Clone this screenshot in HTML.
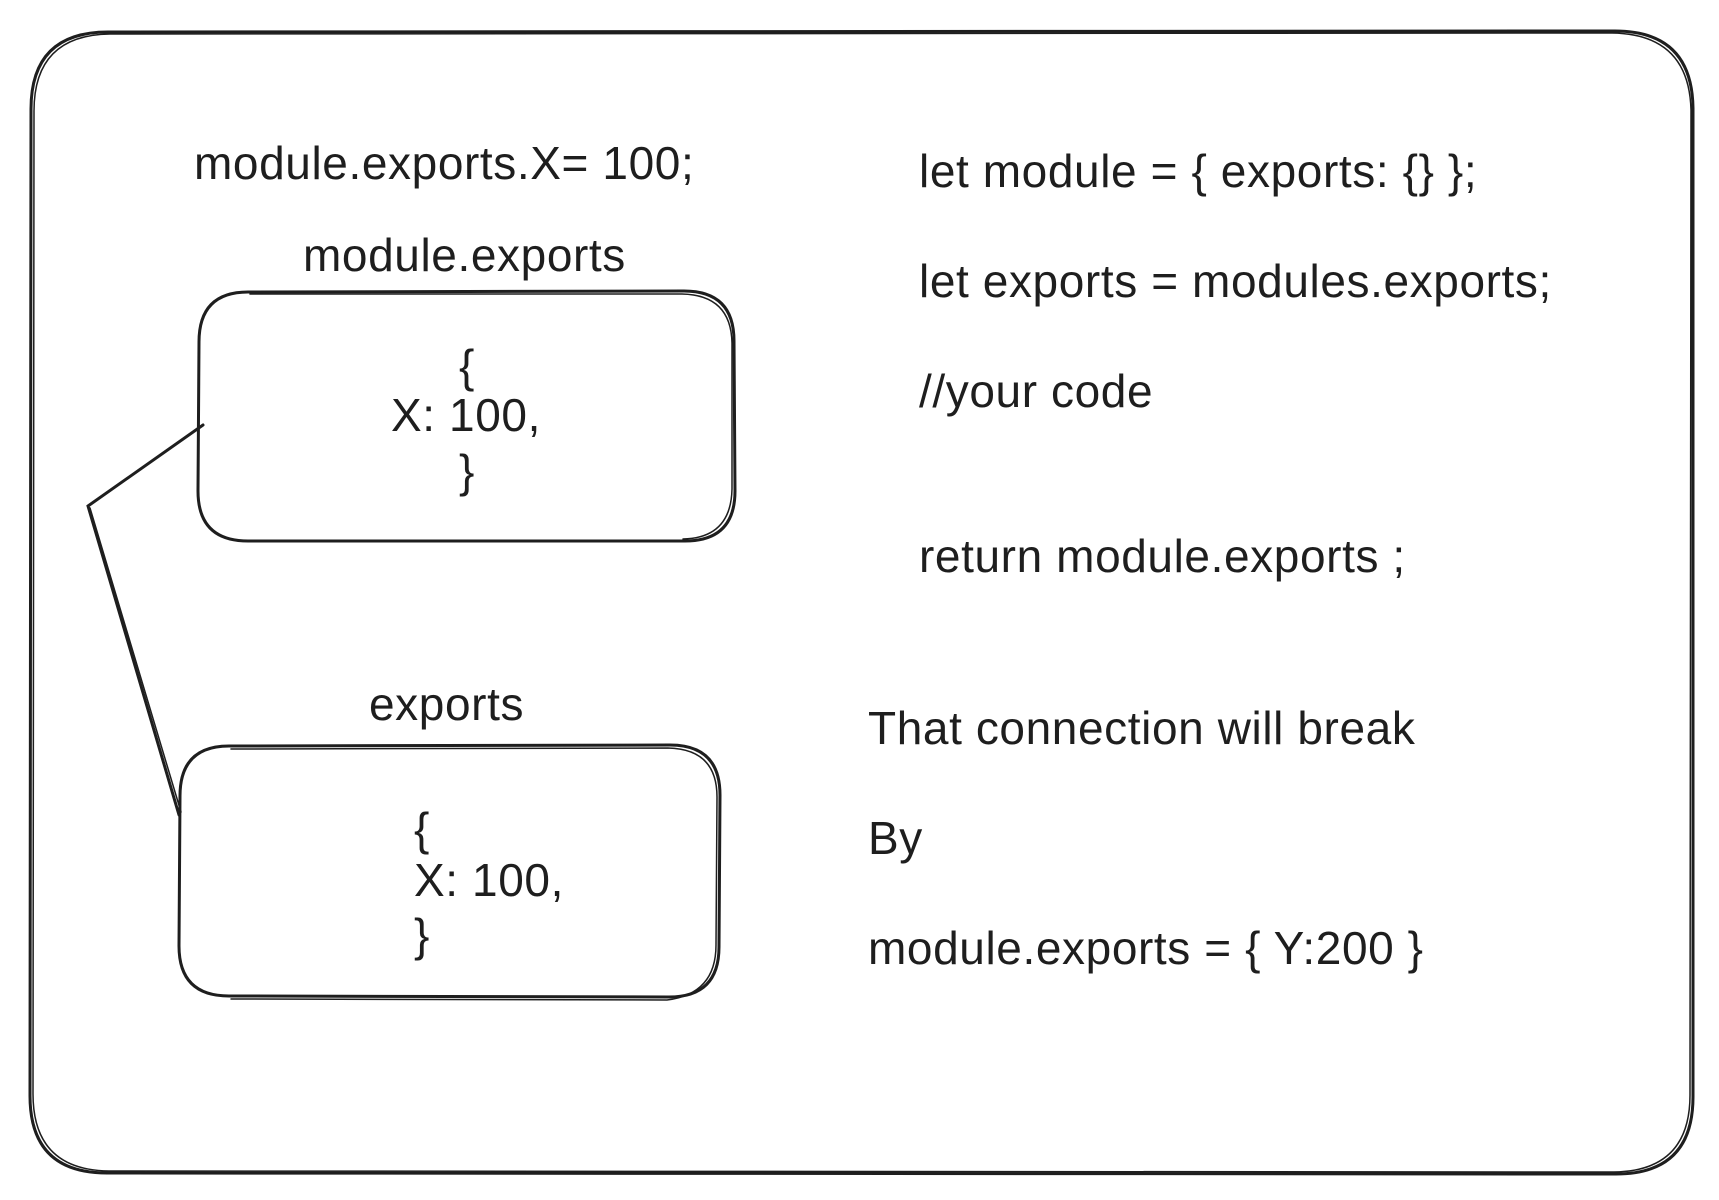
<!DOCTYPE html>
<html><head><meta charset="utf-8"><style>
html,body{margin:0;padding:0;background:#fff;}
svg{display:block;}
text{font-family:"Liberation Sans",Arial,sans-serif;font-size:46px;letter-spacing:0.6px;fill:#1e1e1e;}
</style></head><body>
<svg width="1719" height="1200" viewBox="0 0 1719 1200">
<g fill="none" stroke="#1e1e1e" stroke-width="3" stroke-linecap="round">
<path d="M108 32 L1615 31 Q1692 31 1693 108 L1693 1097 Q1693 1174 1616 1174 L107 1173 Q30 1173 30 1096 L31 109 Q31 32 108 32 Z"/>
<path d="M110 34 L1612 33 Q1689 34 1691 110 L1690 1095 Q1690 1171 1614 1172 L109 1171 Q33 1170 33 1094 L34 111 Q34 35 110 34" stroke-width="1.5"/>
<path d="M248 292 L684 291 Q734 291 734 341 L735 491 Q735 541 685 541 L248 541 Q198 541 198 491 L199 342 Q199 292 248 292 Z"/>
<path d="M250 294 L682 294 Q731 295 732 343 L732 489 Q731 538 683 539" stroke-width="1.5"/>
<path d="M229 746 L670 745 Q720 745 720 795 L719 947 Q719 997 669 997 L229 996 Q179 996 179 946 L180 796 Q180 746 229 746 Z"/>
<path d="M231 749 L668 748 Q717 749 717 797 L716 945 Q716 994 667 1000 L231 999" stroke-width="1.5"/>
<path d="M203 425 L88 506 L179 815"/>
<path d="M90 508 L181 812" stroke-width="1.5"/>
</g>
<text x="194" y="179">module.exports.X= 100;</text>
<text x="303" y="271">module.exports</text>
<text x="467" y="382" text-anchor="middle">{</text>
<text x="391" y="431">X: 100,</text>
<text x="467" y="487" text-anchor="middle">}</text>
<text x="369" y="720">exports</text>
<text x="414" y="845">{</text>
<text x="414" y="896">X: 100,</text>
<text x="414" y="951">}</text>
<text x="919" y="187">let module = { exports: {} };</text>
<text x="919" y="297">let exports = modules.exports;</text>
<text x="919" y="407">//your code</text>
<text x="919" y="572">return module.exports ;</text>
<text x="868" y="744">That connection will break</text>
<text x="868" y="854">By</text>
<text x="868" y="964">module.exports = { Y:200 }</text>
</svg>
</body></html>
